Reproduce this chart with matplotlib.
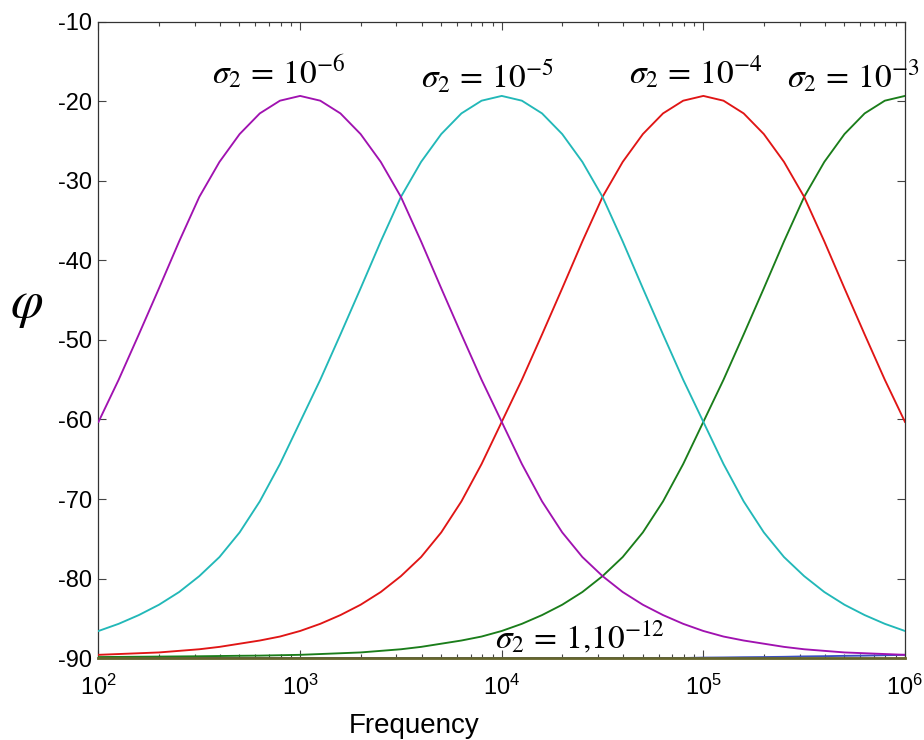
import numpy as np
import matplotlib
matplotlib.use("Agg")
import matplotlib.pyplot as plt
from matplotlib.ticker import LogLocator, NullFormatter

plt.rcParams['font.family'] = ['Liberation Sans', 'DejaVu Sans']
plt.rcParams['axes.unicode_minus'] = False

# Frequency sampling (decade exponents)
freq_exp = [2.0, 2.1, 2.2, 2.3, 2.4, 2.5, 2.6, 2.7, 2.8, 2.9,
            3.0, 3.1, 3.2, 3.3, 3.4, 3.5, 3.6, 3.7, 3.8, 3.9,
            4.0, 4.1, 4.2, 4.3, 4.4, 4.5, 4.6, 4.7, 4.8, 4.9,
            5.0, 5.1, 5.2, 5.3, 5.4, 5.5, 5.6, 5.7, 5.8, 5.9, 6.0]

# Phase angle (degrees) for each conductivity sigma_2
phi_1e6 = [-60.3, -55.0, -49.3, -43.5, -37.6, -32.0, -27.6, -24.1, -21.5, -19.9,
           -19.3, -19.9, -21.5, -24.1, -27.6, -32.0, -37.6, -43.5, -49.3, -55.0,
           -60.3, -65.6, -70.3, -74.2, -77.3, -79.7, -81.7, -83.3, -84.6, -85.7,
           -86.6, -87.3, -87.8, -88.2, -88.6, -88.9, -89.1, -89.3, -89.4, -89.5, -89.6]
phi_1e5 = [-86.6, -85.7, -84.6, -83.3, -81.7, -79.7, -77.3, -74.2, -70.3, -65.6,
           -60.3, -55.0, -49.3, -43.5, -37.6, -32.0, -27.6, -24.1, -21.5, -19.9,
           -19.3, -19.9, -21.5, -24.1, -27.6, -32.0, -37.6, -43.5, -49.3, -55.0,
           -60.3, -65.6, -70.3, -74.2, -77.3, -79.7, -81.7, -83.3, -84.6, -85.7, -86.6]
phi_1e4 = [-89.6, -89.5, -89.4, -89.3, -89.1, -88.9, -88.6, -88.2, -87.8, -87.3,
           -86.6, -85.7, -84.6, -83.3, -81.7, -79.7, -77.3, -74.2, -70.3, -65.6,
           -60.3, -55.0, -49.3, -43.5, -37.6, -32.0, -27.6, -24.1, -21.5, -19.9,
           -19.3, -19.9, -21.5, -24.1, -27.6, -32.0, -37.6, -43.5, -49.3, -55.0, -60.3]
phi_1e3 = [-89.88, -89.86, -89.84, -89.82, -89.8, -89.78, -89.75, -89.72, -89.7, -89.65,
           -89.6, -89.5, -89.4, -89.3, -89.1, -88.9, -88.6, -88.2, -87.8, -87.3,
           -86.6, -85.7, -84.6, -83.3, -81.7, -79.7, -77.3, -74.2, -70.3, -65.6,
           -60.3, -55.0, -49.3, -43.5, -37.6, -32.0, -27.6, -24.1, -21.5, -19.9, -19.3]
phi_1 = [-90.0, -90.0, -90.0, -90.0, -90.0, -90.0, -90.0, -90.0, -90.0, -90.0,
         -90.0, -90.0, -90.0, -90.0, -90.0, -90.0, -90.0, -90.0, -90.0, -90.0,
         -90.0, -90.0, -90.0, -90.0, -90.0, -90.0, -90.0, -90.0, -90.0, -90.0,
         -89.95, -89.93, -89.9, -89.88, -89.85, -89.8, -89.77, -89.73, -89.7, -89.65, -89.6]
phi_1e12 = [-90.0] * len(freq_exp)

x_ticks = [1e2, 1e3, 1e4, 1e5, 1e6]
x_tick_labels = [r'$\mathregular{10^{2}}$', r'$\mathregular{10^{3}}$',
                 r'$\mathregular{10^{4}}$', r'$\mathregular{10^{5}}$',
                 r'$\mathregular{10^{6}}$']
y_ticks = [-90, -80, -70, -60, -50, -40, -30, -20, -10]
y_tick_labels = ['-90', '-80', '-70', '-60', '-50', '-40', '-30', '-20', '-10']

curve_labels = [r'$\sigma_2\,=\,10^{-6}$', r'$\sigma_2\,=\,10^{-5}$',
                r'$\sigma_2\,=\,10^{-4}$', r'$\sigma_2\,=\,10^{-3}$',
                r'$\sigma_2\,=\,1{,}10^{-12}$']

freq = 10.0 ** np.array(freq_exp)

fig = plt.figure(figsize=(9.24, 7.40), dpi=100)
ax = fig.add_axes([0.1066, 0.1108, 0.8728, 0.8595])

lw = 1.35
ax.plot(freq, phi_1, color='#3a4fc0', lw=lw, zorder=2)
ax.plot(freq, phi_1e12, color='#66662c', lw=2.0, zorder=5, clip_on=False)
ax.plot(freq, phi_1e3, color='#1a7d1a', lw=lw, zorder=3)
ax.plot(freq, phi_1e4, color='#e01515', lw=lw, zorder=3)
ax.plot(freq, phi_1e5, color='#22b8b8', lw=lw, zorder=3)
ax.plot(freq, phi_1e6, color='#a012b0', lw=lw, zorder=4)

ax.set_xscale('log')
ax.set_xlim(1e2, 1e6)
ax.set_ylim(-90, -10)

ax.set_xticks(x_ticks)
ax.set_xticklabels(x_tick_labels)
ax.xaxis.set_minor_locator(LogLocator(base=10, subs=np.arange(2, 10), numticks=20))
ax.xaxis.set_minor_formatter(NullFormatter())
ax.set_yticks(y_ticks)
ax.set_yticklabels(y_tick_labels)

ax.tick_params(which='both', direction='in', top=True, right=True,
               color='#444444', width=0.8)
ax.tick_params(which='major', length=5.8)
ax.tick_params(which='minor', length=3.1)
ax.tick_params(axis='x', which='major', labelsize=17, pad=12)
ax.tick_params(axis='y', which='major', labelsize=17, pad=4.5)
for s in ax.spines.values():
    s.set_color('#333333')
    s.set_linewidth(0.9)

label_pos = [(0.1407, 0.9025), (0.3998, 0.8962), (0.6578, 0.9025),
             (0.8537, 0.8962), (0.4915, 0.0157)]
for txt, (tx, ty) in zip(curve_labels, label_pos):
    ax.text(tx, ty, txt, transform=ax.transAxes, fontsize=24,
            math_fontfamily='stix', ha='left', va='baseline', zorder=6)

fig.text(414 / 924, 1 - 733 / 740, 'Frequency', fontsize=20,
         ha='center', va='baseline')
fig.text(27 / 924, 1 - 305 / 740, r'$\varphi$', fontsize=38,
         math_fontfamily='stix', ha='center', va='center')

fig.savefig('out.png', dpi=100)
